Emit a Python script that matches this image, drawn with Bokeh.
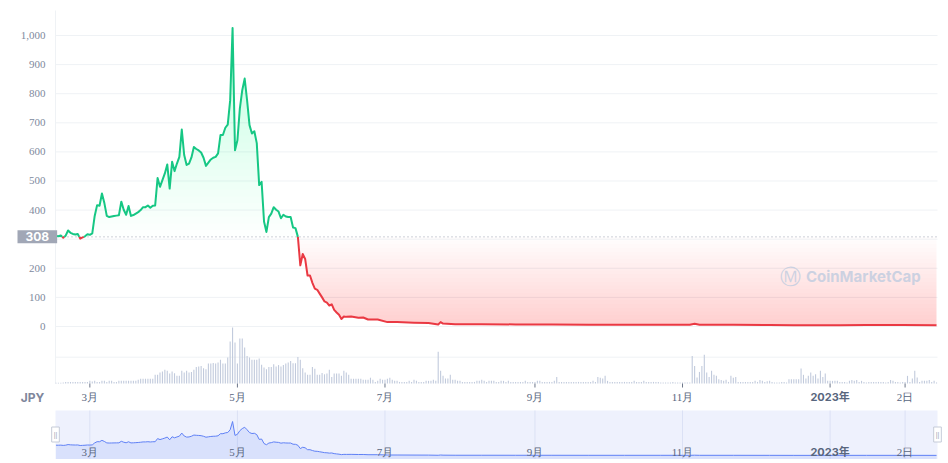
import numpy as np
import pandas as pd
from bokeh.plotting import figure
from bokeh.models import Range1d, Label, LabelSet, ColumnDataSource
from bokeh.layouts import column
from bokeh.embed import file_html
from bokeh.resources import INLINE

# ---------------- data ----------------
START_DATE = "2022-02-15"
currency = "JPY"
current_price = 308

# day offsets from START_DATE and price (JPY)
price_day = list(range(0, 121)) + [122, 125, 127, 129, 133, 137, 141, 148, 154,
                                   158, 159, 160, 165, 176, 190, 205, 220, 235,
                                   250, 262, 264, 266, 280, 295, 305, 315, 324,
                                   335, 350, 364]
price_jpy = [
    311, 310, 313, 305, 312, 330, 322, 318, 316, 318,
    302, 306, 310, 317, 315, 320, 380, 417, 415, 457,
    424, 380, 376, 378, 380, 381, 382, 429, 401, 384,
    414, 380, 383, 388, 393, 400, 410, 410, 416, 408,
    415, 416, 510, 480, 503, 526, 557, 474, 566, 534,
    560, 583, 677, 589, 555, 560, 581, 617, 610, 605,
    598, 580, 552, 563, 574, 580, 583, 595, 658, 658,
    683, 694, 777, 1026, 606, 640, 749, 812, 852, 777,
    692, 663, 671, 630, 486, 497, 361, 325, 376, 388,
    410, 401, 395, 372, 384, 378, 376, 376, 340, 338,
    308, 210, 249, 232, 175, 175, 150, 130, 126, 113,
    100, 86, 82, 72, 76, 57, 48, 40, 26, 34, 33,
    34, 30, 31, 24, 24, 15, 15, 13, 12,
    7, 15, 10, 8, 8, 7, 7, 6, 6,
    6, 6, 9, 6, 6, 5, 4, 4, 4,
    5, 5, 4,
]

# daily volume (relative units), one value per day from START_DATE
volume = [
    3, 3, 3, 4, 6, 6, 6, 6, 6, 6,
    6, 6, 6, 6, 10, 8, 10, 6, 6, 10,
    10, 6, 10, 10, 6, 6, 10, 10, 10, 10,
    10, 10, 10, 10, 14, 18, 18, 18, 18, 18,
    18, 33, 33, 42, 46, 52, 48, 38, 46, 39,
    29, 29, 48, 42, 48, 42, 44, 52, 63, 65,
    67, 58, 54, 76, 76, 78, 76, 80, 90, 76,
    76, 99, 160, 213, 156, 76, 171, 171, 137, 105,
    99, 90, 90, 90, 95, 71, 61, 54, 63, 63,
    73, 65, 70, 65, 70, 76, 80, 86, 77, 77,
    101, 90, 58, 42, 33, 33, 63, 56, 33, 33,
    40, 35, 38, 52, 25, 38, 38, 38, 29, 48,
    42, 33, 18, 18, 18, 18, 18, 14, 14, 14,
    22, 14, 6, 10, 18, 14, 14, 18, 22, 14,
    10, 10, 6, 6, 6, 6, 10, 6, 14, 10,
    6, 6, 6, 10, 10, 10, 14, 10, 121, 48,
    29, 19, 19, 33, 14, 14, 10, 10, 6, 6,
    6, 6, 6, 6, 10, 10, 14, 10, 6, 10,
    10, 10, 6, 6, 10, 10, 6, 10, 6, 6,
    6, 6, 6, 6, 10, 6, 6, 6, 6, 10,
    10, 6, 6, 6, 6, 6, 10, 25, 6, 6,
    6, 6, 6, 6, 6, 6, 6, 6, 6, 6,
    6, 6, 10, 6, 25, 22, 19, 29, 10, 6,
    6, 6, 6, 6, 6, 6, 6, 6, 6, 10,
    6, 6, 6, 10, 6, 6, 6, 6, 6, 6,
    4, 4, 4, 4, 4, 6, 4, 4, 4, 4,
    4, 4, 4, 105, 67, 23, 44, 67, 109, 42,
    25, 48, 33, 29, 16, 13, 10, 14, 6, 29,
    22, 25, 6, 6, 6, 6, 6, 6, 6, 10,
    6, 13, 10, 6, 9, 10, 6, 4, 4, 4,
    6, 6, 4, 16, 16, 16, 16, 16, 57, 33,
    19, 29, 42, 29, 35, 19, 48, 25, 38, 10,
    10, 10, 10, 10, 6, 6, 6, 4, 10, 13,
    10, 13, 6, 10, 6, 4, 6, 6, 6, 6,
    6, 6, 6, 4, 6, 13, 10, 6, 6, 4,
    6, 6, 29, 6, 19, 48, 23, 6, 10, 10,
    10, 13, 6, 10, 4,
]

tick_dates = ["2022-03-01", "2022-05-01", "2022-07-01", "2022-09-01",
              "2022-11-01", "2023-01-01", "2023-02-01"]
tick_labels = ["3月", "5月", "7月", "9月", "11月", "2023年", "2日"]
bold_label = "2023年"
y_ticks = [0, 100, 200, 300, 400, 500, 600, 700, 800, 900, 1000]
y_tick_labels = ["0", "100", "200", "", "400", "500", "600", "700", "800",
                 "900", "1,000"]
vol_grid = [100]

# ---------------- styling / layout ----------------
GREEN = "#16c784"
RED = "#ea3943"
GRID = "#eff2f5"
FONT = "Inter, 'Noto Sans CJK JP', sans-serif"
YLAB = "#808a9d"
XLAB = "#58667e"

start = pd.Timestamp(START_DATE)
tick_days = [(pd.Timestamp(d) - start).days for d in tick_dates]
vol_days = list(range(len(volume)))
bold_day = tick_days[tick_labels.index(bold_label)]

W, H = 948, 405                 # main canvas
PX_L, PX_R = 55, 937            # plot area (px)
PY_T, PY_B = 10, 383
D_LO, D_HI = -0.2, 364.4        # data extents of plot area
P_LO, P_HI = -196, 1086
V_LO, V_HI = 0, 1418

ppd = (PX_R - PX_L) / (D_HI - D_LO)
ppu = (PY_B - PY_T) / (P_HI - P_LO)
vpu = (PY_B - PY_T) / (V_HI - V_LO)


def y_at(py):
    return P_HI - (py - PY_T) / ppu


x_range = Range1d(D_LO - PX_L / ppd, D_HI + (W - PX_R) / ppd)
p = figure(width=W, height=H, x_range=x_range,
           y_range=Range1d(y_at(H), y_at(0)), output_backend="svg",
           toolbar_location=None, x_axis_location=None, y_axis_location=None,
           min_border=0)
p.outline_line_color = None
p.xgrid.visible = False
p.ygrid.visible = False
p.extra_y_ranges = {"vol": Range1d(V_LO - (H - PY_B) / vpu,
                                   V_HI + PY_T / vpu)}

# grid lines & left axis line
p.segment(x0=D_LO, x1=D_HI, y0=y_ticks, y1=y_ticks, line_color=GRID,
          line_width=1)
p.segment(x0=D_LO, x1=D_HI, y0=vol_grid, y1=vol_grid, line_color=GRID,
          line_width=1, y_range_name="vol")
p.segment(x0=D_LO, x1=D_LO, y0=P_LO, y1=P_HI, line_color=GRID, line_width=1)

# volume bars
p.vbar(x=vol_days, top=volume, bottom=0, width=0.45, fill_color="#c1cadc",
       line_color=None, y_range_name="vol")

# price points with crossings of the current-price level inserted
px = np.array(price_day, float)
py = np.array(price_jpy, float)
ax, ay = [px[0]], [py[0]]
for k in range(1, len(px)):
    y0, y1 = py[k - 1], py[k]
    if (y0 - current_price) * (y1 - current_price) < 0:
        t = (current_price - y0) / (y1 - y0)
        ax.append(px[k - 1] + t * (px[k] - px[k - 1]))
        ay.append(float(current_price))
    ax.append(px[k])
    ay.append(py[k])
ax = np.array(ax)
ay = np.array(ay)

# gradient fills (stacked thin layers)
pmax = max(price_jpy)
for a in np.linspace(current_price, pmax, 32)[:-1]:
    p.varea(x=ax, y1=np.full_like(ax, a), y2=np.maximum(ay, a),
            fill_color=GREEN, fill_alpha=0.0095)
for b in np.linspace(current_price, 0, 25)[:-1]:
    p.varea(x=ax, y1=np.minimum(ay, b), y2=np.full_like(ax, b),
            fill_color=RED, fill_alpha=0.0105)

# current price dotted line
p.segment(x0=D_LO, x1=D_HI, y0=current_price, y1=current_price,
          line_color="#9aa1b0", line_dash="1 3", line_width=1)

# coloured price line
seg_xs, seg_ys, seg_c = [], [], []
cur = None
for k in range(1, len(ax)):
    col = GREEN if (ay[k - 1] + ay[k]) / 2 >= current_price else RED
    if col != cur:
        seg_xs.append([float(ax[k - 1])])
        seg_ys.append([float(ay[k - 1])])
        seg_c.append(col)
        cur = col
    seg_xs[-1].append(float(ax[k]))
    seg_ys[-1].append(float(ay[k]))
p.multi_line(xs=seg_xs, ys=seg_ys, line_color=seg_c, line_width=2,
             line_join="round")

# y tick labels
p.add_layout(LabelSet(
    x="x", y="y", text="t",
    source=ColumnDataSource(dict(x=[D_LO] * len(y_ticks), y=y_ticks,
                                 t=y_tick_labels)),
    x_offset=-10, text_align="right", text_baseline="middle",
    text_color=YLAB, text_font=FONT, text_font_size="11px"))

# x ticks and labels
XLAB_Y = y_at(396.5)
p.segment(x0=tick_days, x1=tick_days, y0=P_LO, y1=y_at(PY_B + 4),
          line_color="#6b7589", line_width=1)
normal = [(d, t) for d, t in zip(tick_days, tick_labels) if t != bold_label]
p.add_layout(LabelSet(
    x="x", y="y", text="t",
    source=ColumnDataSource(dict(x=[d for d, _ in normal],
                                 y=[XLAB_Y] * len(normal),
                                 t=[t for _, t in normal])),
    text_align="center", text_baseline="middle", text_color=XLAB,
    text_font=FONT, text_font_size="11px"))
p.add_layout(Label(x=bold_day, y=XLAB_Y, text=bold_label, text_align="center",
                   text_baseline="middle", text_color=XLAB, text_font=FONT,
                   text_font_style="bold", text_font_size="11px"))
p.add_layout(Label(x=32, x_units="screen", y=XLAB_Y, text=currency,
                   text_align="center", text_baseline="middle",
                   text_color="#7f879c", text_font=FONT,
                   text_font_style="bold", text_font_size="12px"))

# current price tag
p.add_layout(Label(x=17, x_units="screen", y=current_price,
                   text=str(current_price), text_align="left",
                   text_baseline="middle", text_color="white",
                   text_font=FONT, text_font_style="bold",
                   text_font_size="12px", background_fill_color="#a1a7b6",
                   padding=dict(left=8, right=8, top=2, bottom=2)))

# watermark
p.add_layout(Label(x=303.5, y=172, text="Ⓜ", text_align="center",
                   text_baseline="middle", text_color="#c3cde0",
                   text_font_size="21px", text_alpha=0.85))
p.add_layout(Label(x=310, y=172, text="CoinMarketCap", text_align="left",
                   text_baseline="middle", text_color="#c3cde0",
                   text_font=FONT, text_font_style="bold",
                   text_font_size="15px", text_alpha=0.85))

# ---------------- navigator ----------------
NH = 54                       # canvas height
NY_T, NY_B = 5, 54            # navigator box (px)
NY_ZERO, NY_PEAK = 50, 16     # px of price 0 and of peak price
npu = (NY_ZERO - NY_PEAK) / pmax


def ny_at(py_):
    return (NY_ZERO - py_) / npu


nav = figure(width=W, height=NH, x_range=Range1d(x_range.start, x_range.end),
             y_range=Range1d(ny_at(NH), ny_at(0)), output_backend="svg",
             toolbar_location=None, x_axis_location=None,
             y_axis_location=None, min_border=0)
nav.outline_line_color = None
nav.xgrid.visible = False
nav.ygrid.visible = False
N_LO, N_HI = ny_at(NY_B), ny_at(NY_T)
nav.quad(left=D_LO, right=D_HI, bottom=N_LO, top=N_HI,
         fill_color="#eef1fd", line_color=None)
nav.segment(x0=tick_days, x1=tick_days, y0=N_LO, y1=N_HI,
            line_color="#dbe1f5", line_width=1)
nav.varea(x=price_day, y1=[N_LO] * len(price_day), y2=price_jpy,
          fill_color="#5b7cf7", fill_alpha=0.14)
nav.line(x=price_day, y=price_jpy, line_color="#5f80f5", line_width=1)

NAVLAB_Y = ny_at(46)
nav.add_layout(LabelSet(
    x="x", y="y", text="t",
    source=ColumnDataSource(dict(x=[d for d, _ in normal],
                                 y=[NAVLAB_Y] * len(normal),
                                 t=[t for _, t in normal])),
    text_align="center", text_baseline="middle", text_color=XLAB,
    text_font=FONT, text_font_size="11px"))
nav.add_layout(Label(x=bold_day, y=NAVLAB_Y, text=bold_label,
                     text_align="center", text_baseline="middle",
                     text_color=XLAB, text_font=FONT, text_font_style="bold",
                     text_font_size="11px"))
for hx in (D_LO, D_HI):
    nav.add_layout(Label(x=hx, y=ny_at(29), text="||",
                         text_align="center", text_baseline="middle",
                         text_color="#9aa3b5", text_font_size="7px",
                         background_fill_color="white",
                         border_line_color="#c5cbd8",
                         padding=dict(left=2, right=2, top=4, bottom=4)))

layout = column(p, nav, spacing=0)
open("out.html", "w").write(file_html(layout, INLINE))
